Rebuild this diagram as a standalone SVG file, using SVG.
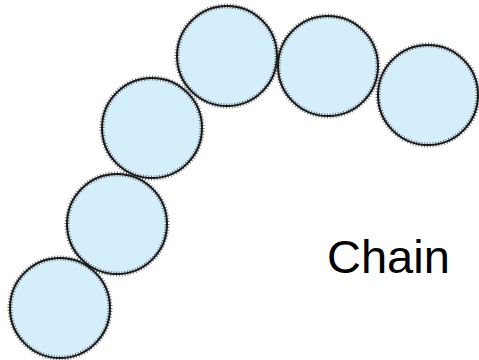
<svg xmlns="http://www.w3.org/2000/svg" width="479" height="360" viewBox="0 0 479 360">
  <style>
    .bead { fill: #d5eefb; }
    .rim { fill: none; stroke: #1a1a1a; stroke-width: 2; }
    .teeth { fill: none; stroke: #333; stroke-width: 5; stroke-dasharray: 1 1.8; opacity: 0.7; }
    .label { font-family: "Liberation Sans", Arial, sans-serif; font-size: 47px; fill: #000; }
  </style>
  <defs>
    <g id="link">
      <circle class="bead" r="50"/>
      <circle class="teeth" r="50"/>
      <circle class="rim" r="50"/>
    </g>
  </defs>
  <rect width="479" height="360" fill="#fff"/>
  <g id="connectors"/>
  <g id="bead1"><use href="#link" x="60" y="308"/></g>
  <g id="bead2"><use href="#link" x="117" y="224"/></g>
  <g id="bead3"><use href="#link" x="152" y="128"/></g>
  <g id="bead4"><use href="#link" x="227" y="56"/></g>
  <g id="bead5"><use href="#link" x="328" y="66"/></g>
  <g id="bead6"><use href="#link" x="428" y="95"/></g>
  <g id="label"><text class="label" x="327" y="273">Chain</text></g>
</svg>
